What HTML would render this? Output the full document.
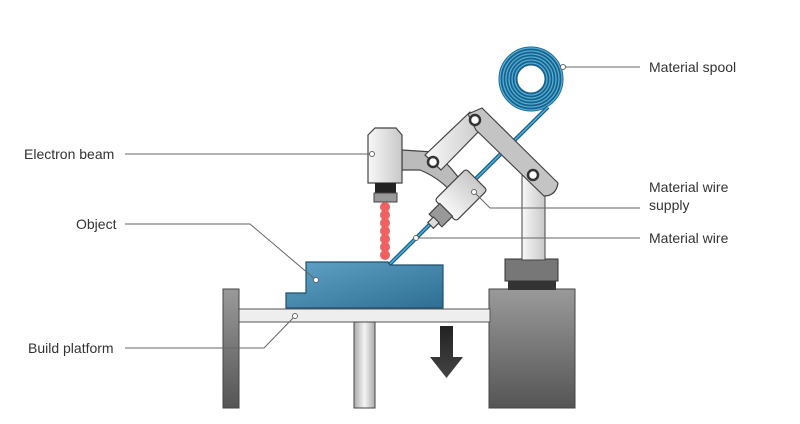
<!DOCTYPE html>
<html><head><style>body{margin:0;background:#fff}svg{display:block}text{font-family:"Liberation Sans",sans-serif;font-size:14px;fill:#333}</style></head><body>
<svg width="800" height="424" viewBox="0 0 800 424" xmlns="http://www.w3.org/2000/svg">
<defs>
<linearGradient id="blue" x1="0" y1="0" x2="1" y2="1"><stop offset="0" stop-color="#5fa3c6"/><stop offset="1" stop-color="#2e6e93"/></linearGradient>
<linearGradient id="gray" x1="0" y1="0" x2="0" y2="1"><stop offset="0" stop-color="#9a9a9a"/><stop offset="1" stop-color="#555"/></linearGradient>
<linearGradient id="hg" x1="0" y1="0" x2="1" y2="0"><stop offset="0" stop-color="#aaa"/><stop offset="0.5" stop-color="#f4f4f4"/><stop offset="1" stop-color="#aaa"/></linearGradient>
<linearGradient id="light" x1="0" y1="0" x2="1" y2="0"><stop offset="0" stop-color="#f8f8f8"/><stop offset="1" stop-color="#c8c8c8"/></linearGradient>
<linearGradient id="arrow" x1="0" y1="0" x2="0" y2="1"><stop offset="0" stop-color="#222"/><stop offset="1" stop-color="#444"/></linearGradient>
</defs>
<!-- spool -->
<circle cx="531" cy="79" r="23" fill="none" stroke="#1d5f86" stroke-width="19"/>
<g fill="none" stroke="#4ab0dc" stroke-width="1.3">
<circle cx="531" cy="79" r="31"/><circle cx="531" cy="79" r="28"/><circle cx="531" cy="79" r="25"/><circle cx="531" cy="79" r="22"/><circle cx="531" cy="79" r="19"/><circle cx="531" cy="79" r="16"/>
</g>
<!-- wire -->
<line x1="548" y1="107" x2="388" y2="266" stroke="#1d5f86" stroke-width="4"/>
<line x1="548" y1="107" x2="388" y2="266" stroke="#4ab0dc" stroke-width="1.5"/>
<!-- right box -->
<rect x="489" y="289" width="86" height="119" fill="url(#gray)" stroke="#444"/>
<rect x="508" y="280" width="48" height="10" fill="#333"/>
<rect x="505" y="259" width="53" height="22" fill="#777" stroke="#333"/>
<!-- vertical post -->
<rect x="522" y="175" width="23" height="85" fill="url(#light)" stroke="#444"/>
<!-- arms -->
<g stroke="#444" stroke-width="1.2" stroke-linejoin="round">
<path d="M402 150 L433 152 Q452 165 470 195 L462 205 Q445 180 420 170 L402 170 Z" fill="#bbb"/>
<path d="M425 155 L470 112 L484 126 L441 170 Z" fill="url(#light)"/>
<path d="M468 114 L482 108 L558 183 Q556 196 544 196 L476 130 Z" fill="#c4c4c4"/>
</g>
<g fill="#fff" stroke="#333" stroke-width="2.5">
<circle cx="433" cy="162" r="5"/><circle cx="475" cy="120" r="5"/><circle cx="533" cy="175" r="5"/>
</g>
<!-- nozzle -->
<g transform="translate(461,195) rotate(-45)" stroke="#444" stroke-width="1.2">
<rect x="-22" y="-15" width="44" height="30" rx="3" fill="url(#light)"/>
<rect x="-36" y="-9" width="15" height="18" fill="#999"/>
<rect x="-43" y="-4" width="8" height="8" fill="#ddd"/>
</g>
<!-- electron beam head -->
<path d="M368 135 L375 128 L396 128 L402 135 L402 183 L368 183 Z" fill="url(#light)" stroke="#444" stroke-width="1.2"/>
<rect x="375" y="183" width="21" height="11" fill="#222"/>
<rect x="374" y="193" width="23" height="9" fill="#999" stroke="#444"/>
<g fill="#f06060">
<circle cx="385" cy="207" r="5"/><circle cx="385" cy="215" r="5"/><circle cx="385" cy="223" r="5"/><circle cx="385" cy="231" r="5"/><circle cx="385" cy="239" r="5"/><circle cx="385" cy="247" r="5"/><circle cx="385" cy="255" r="5"/>
</g>
<!-- object -->
<path d="M286 308 L286 293 L306 293 L306 262 L388 262 L390 265 L443 265 L443 308 Z" fill="url(#blue)" stroke="#1e4f6e" stroke-width="1.2"/>
<!-- platform -->
<rect x="239" y="309" width="251" height="13" fill="#eee" stroke="#555"/>
<rect x="223" y="289" width="16" height="119" fill="url(#gray)" stroke="#444"/>
<rect x="354" y="322" width="21" height="86" fill="url(#hg)" stroke="#444"/>
<path d="M440 326 H453 V357 H463 L446.5 378 L430 357 H440 Z" fill="url(#arrow)"/>
<!-- leader lines -->
<g fill="none" stroke="#666" stroke-width="1">
<line x1="125" y1="154" x2="372" y2="154"/>
<polyline points="125,224 250,224 316,280"/>
<polyline points="125,348 264,348 295,316"/>
<line x1="563" y1="67" x2="640" y2="67"/>
<polyline points="474,192 490,208 640,208"/>
<line x1="416" y1="238" x2="640" y2="238"/>
</g>
<g fill="#fff" stroke="#666">
<circle cx="372" cy="154" r="2.5"/><circle cx="316" cy="280" r="2.5"/><circle cx="295" cy="316" r="2.5"/><circle cx="563" cy="67" r="2.5"/><circle cx="474" cy="192" r="2.5"/><circle cx="416" cy="238" r="2.5"/>
</g>
<text x="24" y="159">Electron beam</text>
<text x="76" y="229">Object</text>
<text x="28" y="353">Build platform</text>
<text x="649" y="72">Material spool</text>
<text x="649" y="192">Material wire</text>
<text x="649" y="210">supply</text>
<text x="649" y="243">Material wire</text>
</svg>
</body></html>
